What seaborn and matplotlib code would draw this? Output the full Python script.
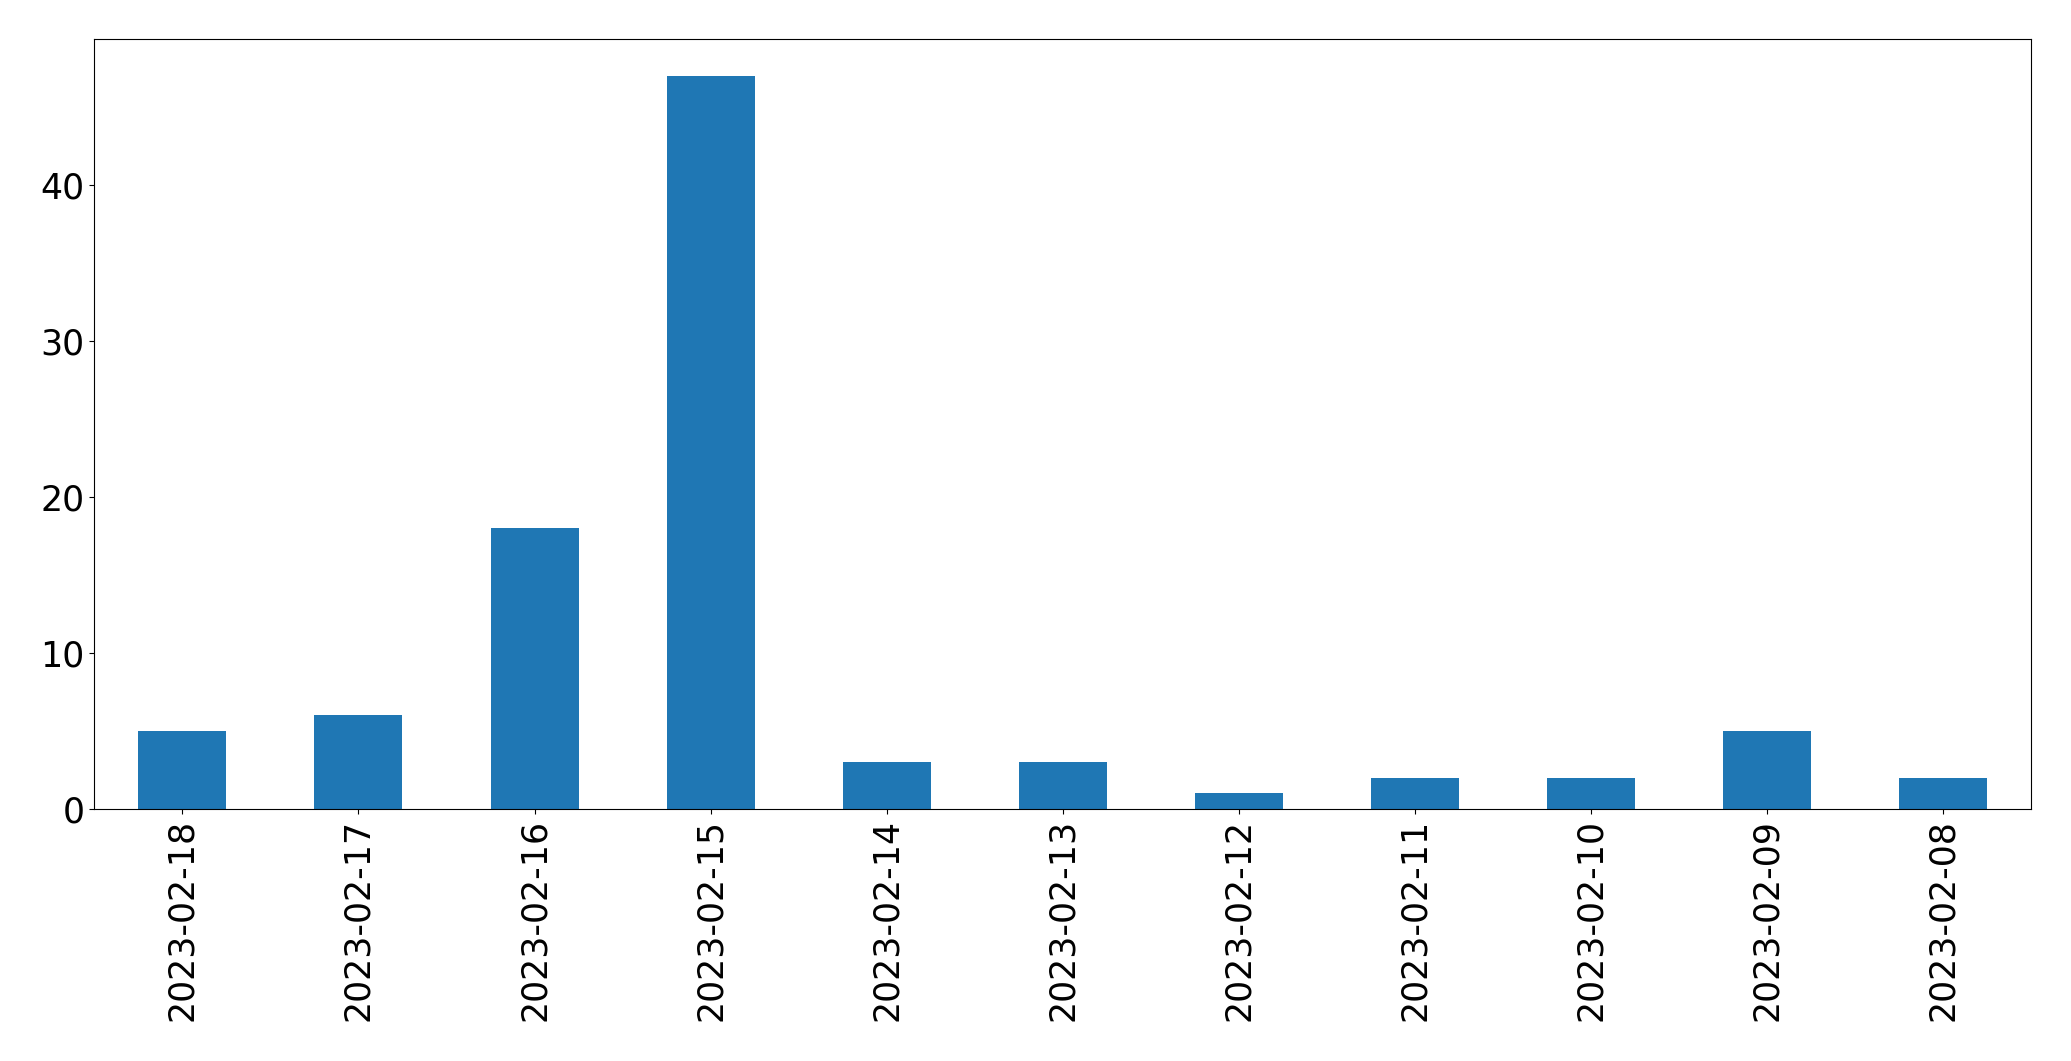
import pandas as pd
import matplotlib as mpl
from matplotlib import pyplot as plt
import seaborn as sns

mpl.use("Agg")

# daily counts, newest first
dates = ['2023-02-18', '2023-02-17', '2023-02-16', '2023-02-15', '2023-02-14',
         '2023-02-13', '2023-02-12', '2023-02-11', '2023-02-10', '2023-02-09',
         '2023-02-08']
counts = [5, 6, 18, 47, 3, 3, 1, 2, 2, 5, 2]

df = pd.DataFrame({'date': dates, 'count': counts})

fig = plt.figure(figsize=(20.71, 10.61), dpi=100)
ax = fig.add_axes([94.3 / 2071, 1 - 809 / 1061, (2031.3 - 94.3) / 2071, (809 - 39.3) / 1061])

sns.barplot(x='date', y='count', data=df, ax=ax, color='#1f77b4',
            saturation=1, width=0.5, order=dates, linewidth=0)

ax.set_xlabel('')
ax.set_ylabel('')
ax.tick_params(axis='both', labelsize=25)
ax.tick_params(axis='x', labelrotation=90)
ax.set_yticks([0, 10, 20, 30, 40])

fig.savefig('out.png', dpi=100)
